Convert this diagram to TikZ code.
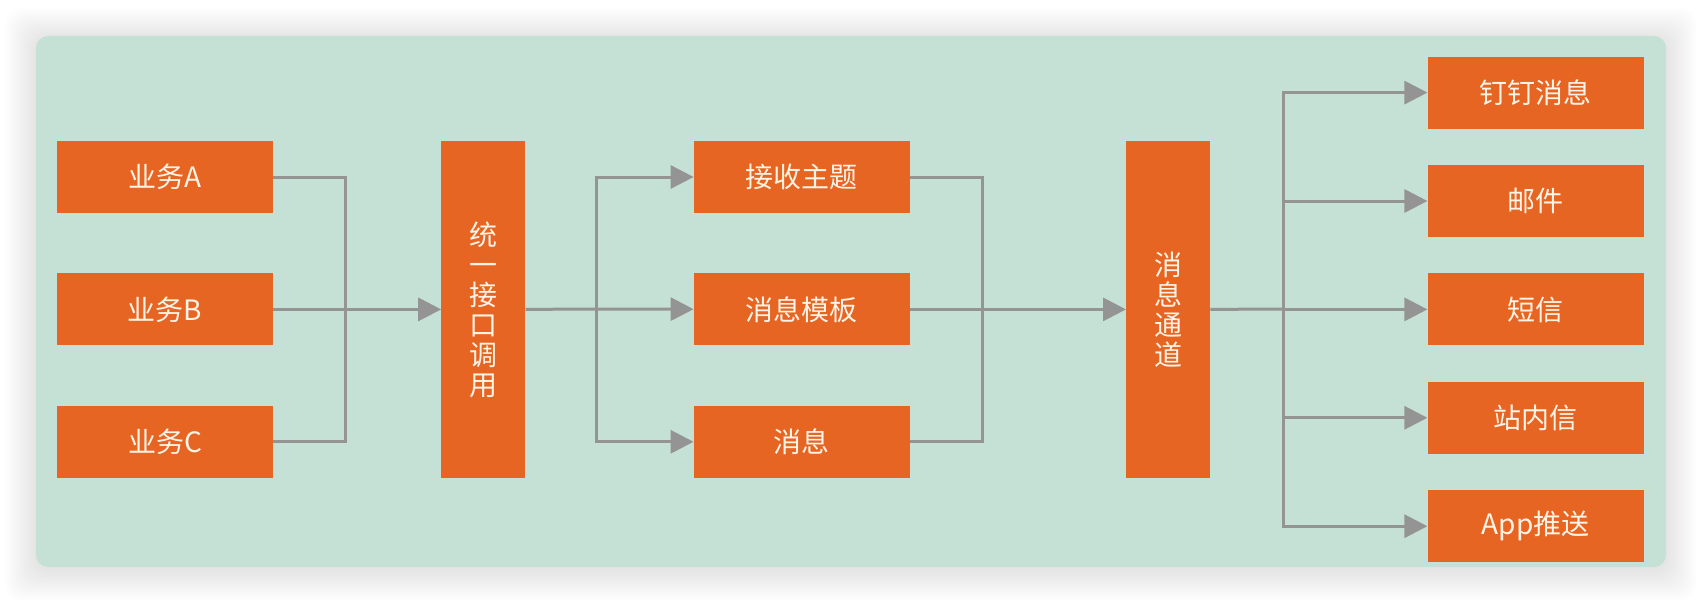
\documentclass[tikz,border=0pt]{standalone}
\usepackage{fontspec}
\setmainfont{Noto Sans CJK SC}
\usetikzlibrary{arrows.meta,positioning}
\definecolor{panelgreen}{HTML}{C5E0D4}
\definecolor{boxorange}{HTML}{E66523}
\definecolor{boxtext}{HTML}{FFF4E6}
\definecolor{linkgray}{HTML}{949494}

\begin{document}
\begin{tikzpicture}[x=1pt, y=-1pt, node distance=60pt and 168pt, every node/.style={font=\fontsize{28}{30}\selectfont}]
\tikzset{box/.style={fill=boxorange, text=boxtext, minimum width=216pt, minimum height=72pt, inner sep=0pt}}
\tikzset{tall/.style={fill=boxorange, text=boxtext, minimum width=84pt, minimum height=337pt, inner sep=0pt, align=center}}
\tikzset{link/.style={draw=linkgray, line width=3pt}}
\tikzset{arr/.style={link, -{Triangle[length=23pt, width=23pt]}}}
\useasboundingbox (0,0) rectangle (1702,602);
% panel and its soft shadow
\foreach \s in {1,...,26}
  \fill[black, opacity=0.0055, rounded corners=16pt] ({36-1.2*\s},{39-1.2*\s}) rectangle ({1666+1.2*\s},{570+1.2*\s});
\fill[panelgreen, rounded corners=12pt] (36,36) rectangle (1666,567);
% sources
\node[box] (bizA) at (165,177) {业务A};
\node[box, below=of bizA] (bizB) {业务B};
\node[box, below=of bizB] (bizC) {业务C};
\node[tall, right=168pt of bizB] (api) {统\\一\\接\\口\\调\\用};
% message parts
\node[box, right=168pt of api] (tmpl) {消息模板};
\node[box, above=of tmpl] (topic) {接收主题};
\node[box, below=of tmpl] (msg) {消息};
\node[tall, right=216pt of tmpl] (chan) {消\\息\\通\\道};
% channels
\node[box, right=217pt of chan] (sms) {短信};
\node[box, above=36pt of sms] (mail) {邮件};
\node[box, above=36pt of mail] (ding) {钉钉消息};
\node[box, below=36pt of sms] (inbox) {站内信};
\node[box, below=36pt of inbox] (push) {App推送};
\coordinate (j1) at (345,309);
\coordinate (j2) at (596,309);
\coordinate (j3) at (982,309);
\coordinate (j4) at (1283,309);
\draw[link] (bizA.east) -| (j1);
\draw[link] (bizC.east) -| (j1);
\draw[arr] (bizB) -- (api);
\draw[link] (api.east) -- (j2);
\draw[arr] (j2) |- (topic);
\draw[arr] (j2) -- (tmpl);
\draw[arr] (j2) |- (msg);
\draw[link] (topic.east) -| (j3);
\draw[link] (msg.east) -| (j3);
\draw[arr] (tmpl) -- (chan);
\draw[link] (chan.east) -- (j4);
\foreach \n in {ding,mail,sms,inbox,push}
  \draw[arr] (j4) |- (\n);
\end{tikzpicture}
\end{document}
